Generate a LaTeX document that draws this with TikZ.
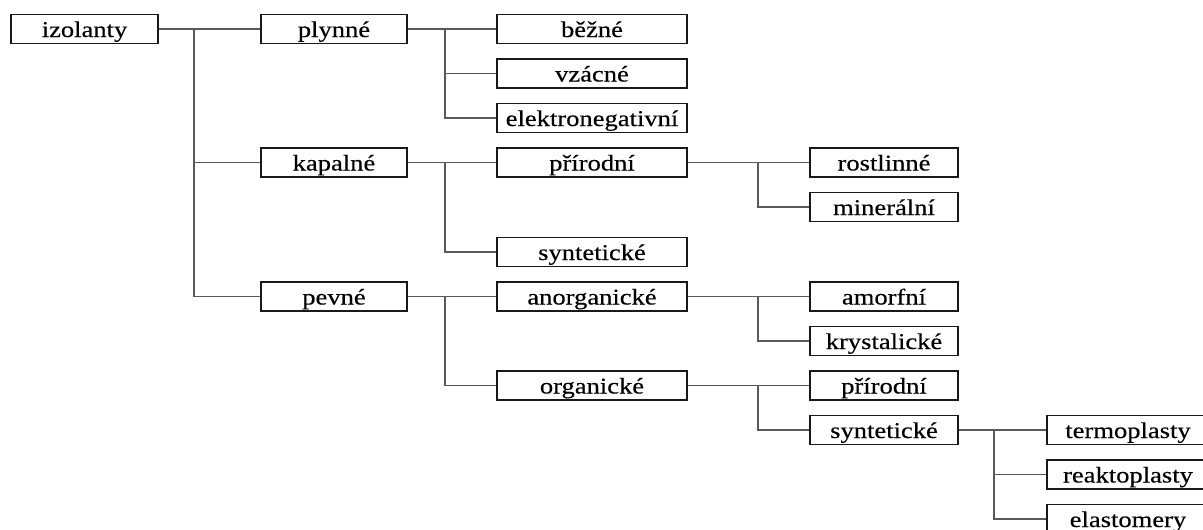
\documentclass[tikz,border=0pt]{standalone}
\usepackage{fontspec}
\setmainfont{Liberation Serif}
\newfontfamily\boxfont[FakeBold=0.3]{Liberation Serif}
\begin{document}
\begin{tikzpicture}[x=1pt,y=-1pt,
  box/.style={draw=black!90,line width=1.3pt,fill=white,minimum height=29pt,inner sep=0pt,
    text height=18pt,text depth=2pt,font=\boxfont\fontsize{22.5}{22.5}\selectfont},
  lvzero/.style={box,minimum width=147pt},
  lvone/.style={box,minimum width=146pt},
  lvtwo/.style={box,minimum width=190pt},
  lvthree/.style={box,minimum width=148pt},
  lvfour/.style={box,minimum width=162pt},
  conn/.style={draw=black!65,line width=1.4pt}]
\useasboundingbox (0,0) rectangle (1203,530);
\clip (0,0) rectangle (1203,530);
\newcommand{\sx}[1]{\scalebox{1.18}[1]{#1}}
% junction columns
\coordinate (ja) at (194,0);
\coordinate (jb) at (445,0);
\coordinate (jc) at (758,0);
\coordinate (jd) at (994,0);
% nodes
\node[lvzero] (izo) at (84.5,29) {\sx{izolanty}};
\node[lvone] (ply) at (334,29) {\sx{plynné}};
\node[lvone] (kap) at (334,162.5) {\sx{kapalné}};
\node[lvone] (pev) at (334,296.5) {\sx{pevné}};
\node[lvtwo] (bez) at (592,29) {\sx{běžné}};
\node[lvtwo] (vza) at (592,73.5) {\sx{vzácné}};
\node[lvtwo] (ele) at (592,118) {\sx{elektronegativní}};
\node[lvtwo] (pria) at (592,162.5) {\sx{přírodní}};
\node[lvtwo] (syna) at (592,252) {\sx{syntetické}};
\node[lvtwo] (ano) at (592,296.5) {\sx{anorganické}};
\node[lvtwo] (org) at (592,385.5) {\sx{organické}};
\node[lvthree] (ros) at (884,162.5) {\sx{rostlinné}};
\node[lvthree] (min) at (884,207) {\sx{minerální}};
\node[lvthree] (amo) at (884,296.5) {\sx{amorfní}};
\node[lvthree] (kry) at (884,341) {\sx{krystalické}};
\node[lvthree] (prib) at (884,385.5) {\sx{přírodní}};
\node[lvthree] (synb) at (884,430) {\sx{syntetické}};
\node[lvfour] (ter) at (1128,430) {\sx{termoplasty}};
\node[lvfour] (rea) at (1128,474.5) {\sx{reaktoplasty}};
\node[lvfour] (ela) at (1128,519) {\sx{elastomery}};
% connectors
\foreach \p/\j/\c in {izo/ja/ply, izo/ja/kap, izo/ja/pev,
  ply/jb/bez, ply/jb/vza, ply/jb/ele,
  kap/jb/pria, kap/jb/syna,
  pev/jb/ano, pev/jb/org,
  pria/jc/ros, pria/jc/min,
  ano/jc/amo, ano/jc/kry,
  org/jc/prib, org/jc/synb,
  synb/jd/ter, synb/jd/rea, synb/jd/ela}
  \draw[conn] (\p.east) -- (\j |- \p.east) |- (\c.west);
\end{tikzpicture}
\end{document}
